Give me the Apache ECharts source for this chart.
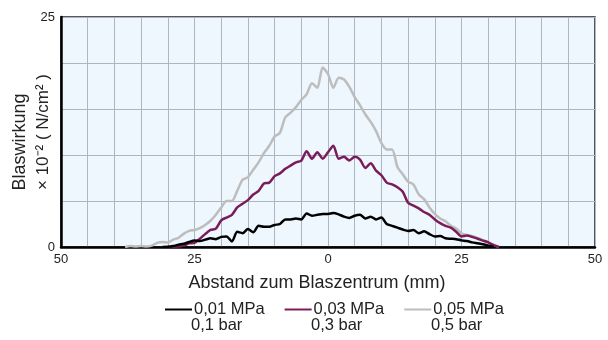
<!DOCTYPE html>
<html>
<head>
<meta charset="utf-8">
<script src="https://cdn.jsdelivr.net/npm/echarts@6/dist/echarts.min.js"></script>
<style>
  html, body { margin: 0; padding: 0; background: #fff; }
  #chart { width: 608px; height: 340px; }
</style>
</head>
<body>
<div id="chart"></div>
<script>
// distance from blow centre (mm), one value per mm
const distance = [
  -38, -37, -36, -35, -34, -33, -32, -31, -30, -29, -28, -27, -26, -25, -24, -23, -22, -21, -20, -19,
  -18, -17, -16, -15, -14, -13, -12, -11, -10, -9, -8, -7, -6, -5, -4, -3, -2, -1, 0, 1,
  2, 3, 4, 5, 6, 7, 8, 9, 10, 11, 12, 13, 14, 15, 16, 17, 18, 19, 20, 21,
  22, 23, 24, 25, 26, 27, 28, 29, 30, 31, 32
];

// 0,01 MPa / 0,1 bar
const blackValues = [
  null, null, null, null, null, null, null, 0, 0.02, 0.1, 0.25, 0.35, 0.55, 0.7, 0.65, 0.8, 0.95, 0.85, 1.1, 1.15,
  0.6, 1.65, 1.5, 1.95, 1.6, 2.3, 2.2, 2.2, 2.4, 2.5, 3.0, 3.0, 3.1, 3.0, 3.65, 3.4, 3.5, 3.6, 3.6, 3.7,
  3.55, 3.3, 3.15, 3.4, 3.5, 3.1, 3.3, 3.0, 3.2, 2.5, 2.3, 2.1, 1.9, 1.75, 1.85, 1.5, 1.7, 1.4, 1.15, 1.2,
  0.95, 0.9, 0.85, 0.72, 0.65, 0.5, 0.4, 0.3, 0.15, 0, null
];

// 0,03 MPa / 0,3 bar
const purpleValues = [
  null, null, null, null, null, null, null, null, 0, 0.02, 0.05, 0.15, 0.4, 0.45, 0.9, 1.4, 1.85, 2.0, 2.9, 3.2,
  3.5, 4.3, 4.7, 5.1, 5.7, 6.1, 6.9, 7.0, 7.7, 8.0, 8.5, 8.85, 9.2, 9.4, 10.4, 9.6, 10.3, 9.6, 10.3, 11.0,
  9.6, 9.8, 9.4, 9.8, 9.5, 8.6, 9.1, 8.3, 7.8, 7.0, 6.8, 6.5, 6.0, 4.8, 4.5, 4.2, 3.8, 3.5, 3.0, 2.6,
  2.3, 2.1, 1.65, 1.15, 1.25, 1.1, 0.9, 0.7, 0.5, 0.2, 0
];

// 0,05 MPa / 0,5 bar
const grayValues = [
  0, 0.1, 0.05, 0.12, 0.05, 0.15, 0.45, 0.55, 0.5, 0.8, 1.0, 1.45, 1.75, 1.85, 2.05, 2.4, 2.85, 3.5, 4.3, 5.0,
  5.0, 6.1, 7.3, 7.6, 8.4, 9.2, 10.2, 11.0, 12.0, 12.4, 14.1, 14.6, 15.2, 16.0, 16.6, 17.8, 17.3, 19.5, 18.8, 17.3,
  18.4, 18.2, 17.4, 16.3, 15.4, 14.4, 13.6, 12.6, 11.3, 10.6, 10.6, 8.7, 7.9, 7.1, 6.8, 5.7, 5.2, 4.3, 3.6, 3.1,
  2.8, 2.3, 2.0, 1.5, 1.3, 1.2, 1.0, 0.75, 0.5, 0.25, 0
];

const seriesNames = ["0,01 MPa", "0,03 MPa", "0,05 MPa"];
const barLabels = ["0,1 bar", "0,3 bar", "0,5 bar"];
const seriesColors = ["#000000", "#7a1c5a", "#bdbdbd"];

const FONT = "'Liberation Sans', Arial, Helvetica, sans-serif";

function toPoints(values) {
  return distance
    .map((x, i) => [x, values[i]])
    .filter((p) => p[1] !== null);
}

function makeSeries(name, values, color, z) {
  return {
    name,
    type: "line",
    data: toPoints(values),
    showSymbol: false,
    symbol: "none",
    smooth: 0.25,
    z,
    lineStyle: { color, width: 2.5 },
    itemStyle: { color }
  };
}

const chart = echarts.init(document.getElementById("chart"), null, { renderer: "canvas" });

chart.setOption({
  animation: false,
  backgroundColor: "#ffffff",
  grid: {
    left: 61,
    right: 13,
    top: 17,
    bottom: 93,
    show: true,
    backgroundColor: "#eef6fe",
    borderColor: "#222222",
    borderWidth: 1.5
  },
  xAxis: {
    type: "value",
    min: -50,
    max: 50,
    interval: 5,
    axisLine: { show: true, onZero: false, lineStyle: { color: "#000", width: 2.5 } },
    axisTick: { show: false },
    axisLabel: {
      color: "#222",
      fontSize: 13,
      fontFamily: FONT,
      margin: 6,
      formatter: (v) => (v % 25 === 0 ? String(Math.abs(v)) : "")
    },
    splitLine: { show: true, lineStyle: { color: "#aeb7c1", width: 1 } }
  },
  yAxis: {
    type: "value",
    min: 0,
    max: 25,
    interval: 5,
    axisLine: { show: true, onZero: false, lineStyle: { color: "#000", width: 2.5 } },
    axisTick: { show: false },
    axisLabel: {
      color: "#222",
      fontSize: 13,
      fontFamily: FONT,
      margin: 6,
      formatter: (v) => (v % 25 === 0 ? String(v) : "")
    },
    splitLine: { show: true, lineStyle: { color: "#aeb7c1", width: 1 } }
  },
  legend: {
    left: 160,
    top: 296,
    itemWidth: 27,
    itemHeight: 2,
    itemGap: 20,
    icon: "rect",
    textStyle: { color: "#222", fontSize: 16.5, fontFamily: FONT, padding: [0, 0, 0, -3] },
    data: seriesNames
  },
  graphic: [
    {
      type: "text",
      x: 20,
      y: 142,
      rotation: Math.PI / 2,
      style: {
        text: "Blaswirkung",
        fill: "#222",
        font: "18px " + FONT,
        textAlign: "center",
        textVerticalAlign: "middle"
      }
    },
    {
      type: "text",
      x: 43,
      y: 132,
      rotation: Math.PI / 2,
      style: {
        text: "× 10\u207B\u00B2 ( N/cm\u00B2 )",
        fill: "#222",
        font: "17px " + FONT,
        textAlign: "center",
        textVerticalAlign: "middle"
      }
    },
    {
      type: "text",
      x: 317,
      y: 283,
      style: {
        text: "Abstand zum Blaszentrum (mm)",
        fill: "#222",
        font: "18px " + FONT,
        textAlign: "center",
        textVerticalAlign: "middle"
      }
    },
    ...barLabels.map((label, i) => ({
      type: "text",
      x: [191, 311, 431][i],
      y: 325,
      style: {
        text: label,
        fill: "#222",
        font: "16.5px " + FONT,
        textAlign: "left",
        textVerticalAlign: "middle"
      }
    }))
  ],
  series: [
    makeSeries(seriesNames[0], blackValues, seriesColors[0], 4),
    makeSeries(seriesNames[1], purpleValues, seriesColors[1], 3),
    makeSeries(seriesNames[2], grayValues, seriesColors[2], 2)
  ]
});
</script>
</body>
</html>
